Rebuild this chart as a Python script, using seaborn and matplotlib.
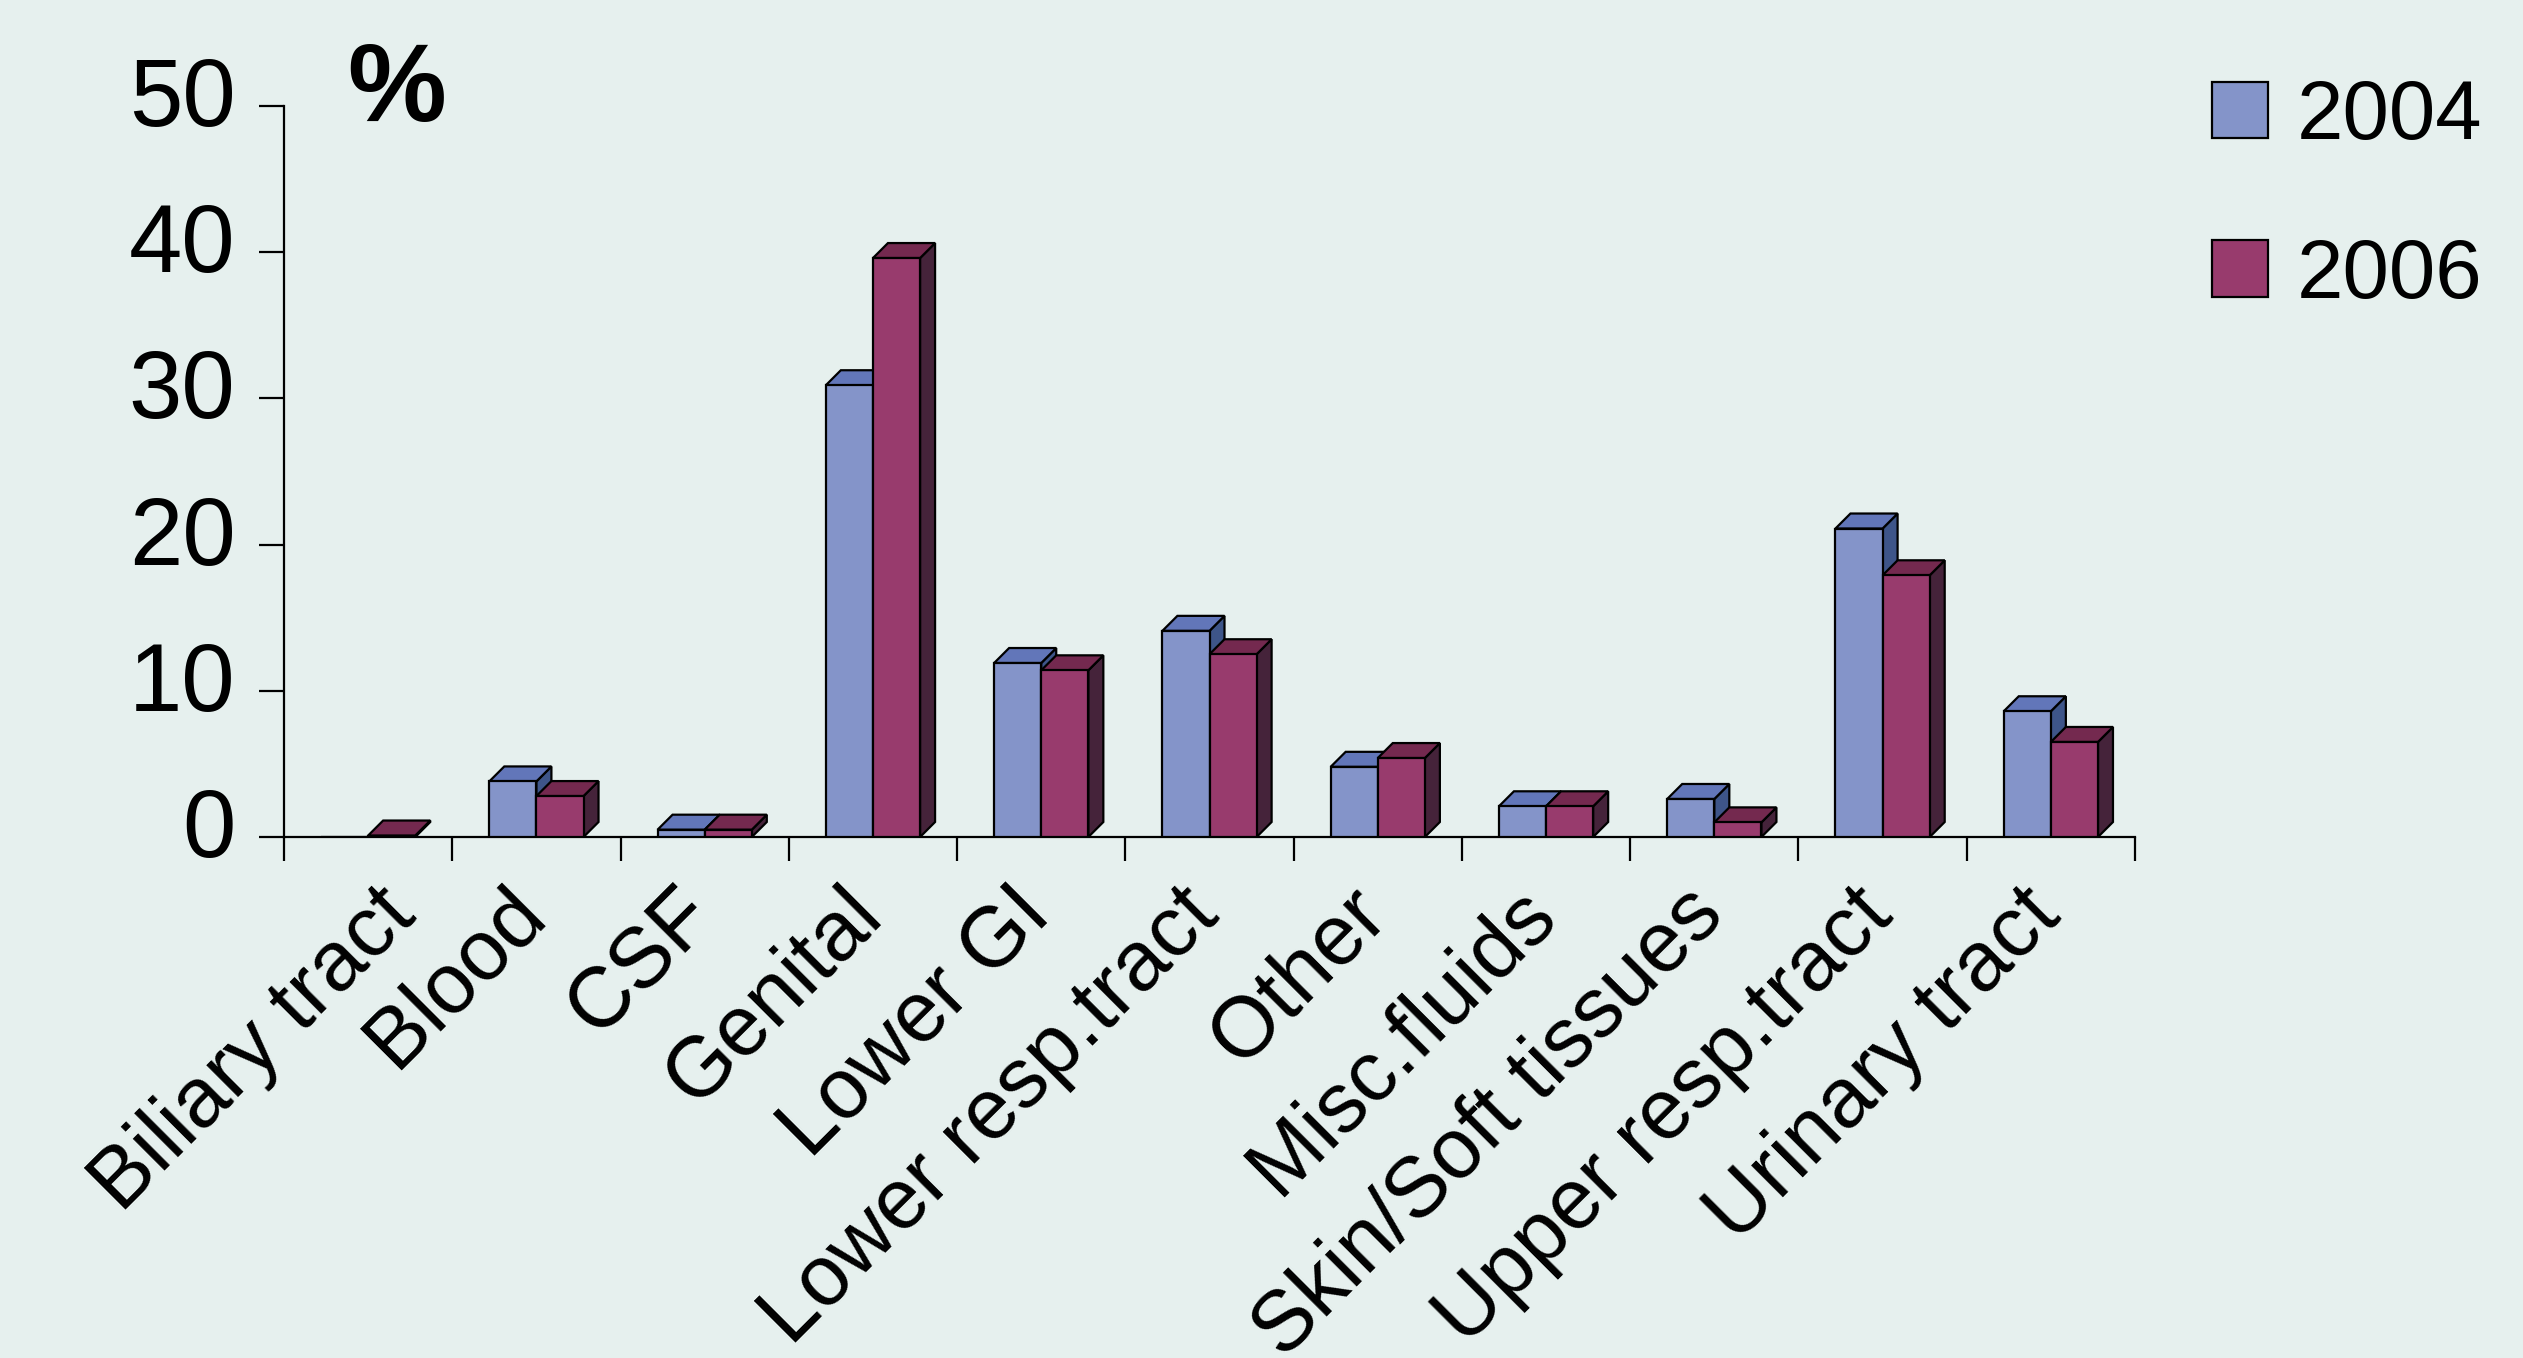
import numpy as np
import pandas as pd
import matplotlib
matplotlib.use("Agg")
import matplotlib.pyplot as plt
import seaborn as sns
from matplotlib import font_manager
from matplotlib.patches import Polygon, Patch
from matplotlib.transforms import ScaledTranslation

# ---- data -------------------------------------------------------------
categories = ["Biliary tract", "Blood", "CSF", "Genital", "Lower GI",
              "Lower resp.tract", "Other", "Misc.fluids", "Skin/Soft tissues",
              "Upper resp.tract", "Urinary tract"]
pct_2004 = [0.0, 3.8, 0.5, 30.9, 11.9, 14.1, 4.8, 2.1, 2.6, 21.1, 8.6]
pct_2006 = [0.1, 2.8, 0.5, 39.6, 11.4, 12.5, 5.4, 2.1, 1.0, 17.9, 6.5]
years = ["2004", "2006"]
y_ticks = [0, 10, 20, 30, 40, 50]

# ---- style ------------------------------------------------------------
bg = "#E6F0EE"
front_colors = {"2004": "#8494C9", "2006": "#983B6D"}
top_colors = {"2004": "#6276B9", "2006": "#74294F"}
side_colors = {"2004": "#3E5589", "2006": "#45233A"}

df = pd.DataFrame({
    "category": categories * 2,
    "year": [years[0]] * len(categories) + [years[1]] * len(categories),
    "pct": pct_2004 + pct_2006,
})

sns.set_theme(style="white")
plt.rcParams["font.family"] = ["Liberation Sans", "DejaVu Sans"]
plt.rcParams["text.color"] = "black"

W, H, DPI = 2523, 1358, 100
fig = plt.figure(figsize=(W / DPI, H / DPI), dpi=DPI, facecolor=bg)
ax = fig.add_axes([284 / W, 1 - 837 / H, (2135 - 284) / W, (837 - 106) / H])
ax.set_facecolor(bg)

sns.barplot(data=df, x="category", y="pct", hue="year", order=categories,
            hue_order=years, palette=front_colors, width=0.56, saturation=1,
            edgecolor="black", linewidth=1.6, legend=False, ax=ax, zorder=3)

ax.set_xlim(-0.5, len(categories) - 0.5)
ax.set_ylim(0, 50)

# ---- pseudo-3D tops and sides built from the bar patches -------------
p0 = ax.transData.transform((0, 0))
p1 = ax.transData.transform((1, 1))
dx = 15 / (p1[0] - p0[0])
dy = 15 / (p1[1] - p0[1])
for year, container in zip(years, ax.containers):
    for bar in container.patches:
        x0, w, h = bar.get_x(), bar.get_width(), bar.get_height()
        if h <= 0:
            continue
        side = Polygon([(x0 + w, 0), (x0 + w + dx, dy), (x0 + w + dx, h + dy), (x0 + w, h)],
                       closed=True, facecolor=side_colors[year], edgecolor="black",
                       linewidth=1.6, zorder=2, clip_on=False)
        top = Polygon([(x0, h), (x0 + w, h), (x0 + w + dx, h + dy), (x0 + dx, h + dy)],
                      closed=True, facecolor=top_colors[year], edgecolor="black",
                      linewidth=1.6, zorder=2, clip_on=False)
        ax.add_patch(side)
        ax.add_patch(top)

# ---- axes -------------------------------------------------------------
for s in ("top", "right"):
    ax.spines[s].set_visible(False)
for s in ("left", "bottom"):
    ax.spines[s].set_color("black")
    ax.spines[s].set_linewidth(1.6)

ax.set_xlabel("")
ax.set_ylabel("")

ax.set_yticks(y_ticks)
ax.set_yticklabels([str(v) for v in y_ticks])
ax.tick_params(axis="y", which="major", direction="out", length=18, width=1.6,
               color="black", pad=17, labelsize=69, labelcolor="black", left=True)

n = len(categories)
ax.set_xticks(np.arange(n + 1) - 0.5)
ax.set_xticklabels([])
ax.set_xticks(np.arange(n), minor=True)
ax.set_xticklabels(categories, minor=True, rotation=45, ha="right",
                   va="baseline", rotation_mode="anchor")
ax.tick_params(axis="x", which="major", direction="out", length=17, width=1.6,
               color="black", bottom=True)
ax.tick_params(axis="x", which="minor", length=0, pad=58, labelsize=61,
               labelcolor="black", bottom=True)

for lab in ax.get_yticklabels():
    lab.set_transform(lab.get_transform() + ScaledTranslation(0, 0.15, fig.dpi_scale_trans))
for i, lab in enumerate(ax.get_xticklabels(minor=True)):
    shift = 0.50 if i == 0 else 0.12
    lab.set_transform(lab.get_transform() + ScaledTranslation(shift, 0, fig.dpi_scale_trans))

# unit marker
fig.text(347 / W, 1 - 121 / H, "%", fontsize=80, fontweight="bold",
         ha="left", va="baseline", color="black")

# ---- legend (narrow face when available) -------------------------------
available = {f.name for f in font_manager.fontManager.ttflist}
if "Liberation Sans Narrow" in available:
    legend_family, legend_size = "Liberation Sans Narrow", 69
else:
    legend_family, legend_size = "Liberation Sans", 60
fs_px = legend_size * DPI / 72
row_h = 0.93 * fs_px
handles = [Patch(facecolor=front_colors[y], edgecolor="black", linewidth=1.6) for y in years]
legend_top = 117 - row_h / 2
leg = fig.legend(handles, years, loc="upper left",
                 bbox_to_anchor=(2212 / W, 1 - legend_top / H),
                 frameon=False, handlelength=56 / fs_px, handleheight=56 / fs_px,
                 handletextpad=29 / fs_px, labelspacing=(158 - row_h) / fs_px,
                 borderpad=0, borderaxespad=0, labelcolor="black",
                 prop={"family": legend_family, "size": legend_size})

fig.savefig("out.png", dpi=DPI, facecolor=bg)
